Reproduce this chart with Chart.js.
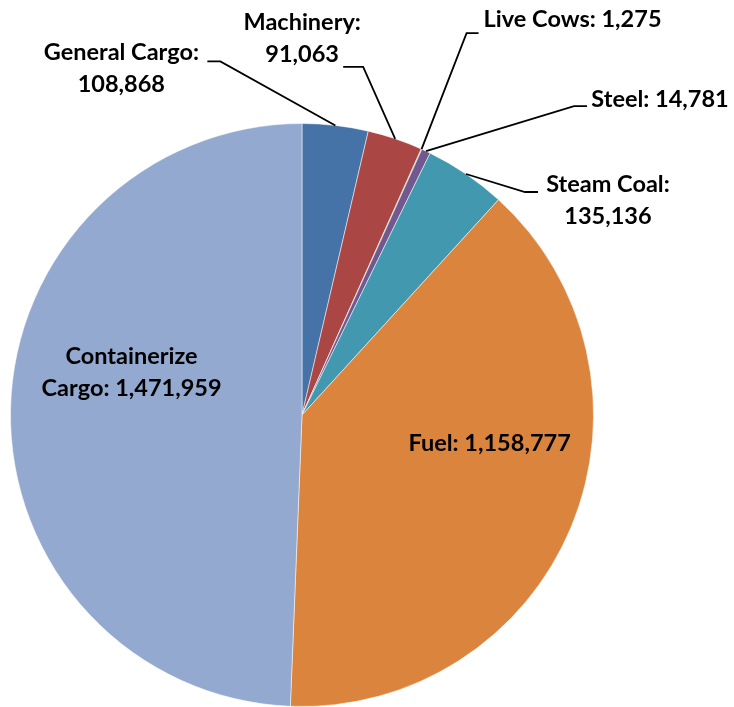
<!DOCTYPE html>
<html>
<head>
<meta charset="utf-8">
<script src="https://cdn.jsdelivr.net/npm/chart.js@4/dist/chart.umd.min.js"></script>
<style>
  body { margin: 0; background: #fff; }
  #wrap { width: 734px; height: 707px; }
</style>
</head>
<body>
<div id="wrap"><canvas id="cargoPie" width="734" height="707"></canvas></div>
<script>
// data, clockwise from 12 o'clock
const categories = ['General Cargo', 'Machinery', 'Live Cows', 'Steel', 'Steam Coal', 'Fuel', 'Containerize Cargo'];
const tonnage = [108868, 91063, 1275, 14781, 135136, 1158777, 1471959];
const sliceColors = ['#4572A7', '#AA4643', '#89A54E', '#71588F', '#4198AF', '#DB843D', '#93A9CF'];

// label text lines, and where they sit relative to the slice's outer mid point
const labelLines = [
  ['General Cargo:', '108,868'],
  ['Machinery:', '91,063'],
  ['Live Cows: 1,275'],
  ['Steel: 14,781'],
  ['Steam Coal:', '135,136'],
  ['Fuel: 1,158,777'],
  ['Containerize', 'Cargo: 1,471,959']
];
const labelOffsets = [[-214, -57], [-93, -100], [151, -130], [234, -52], [142, 26], [-82, -82], [121, -37]];
const leaderOffsets = [
  [[-115, -64], [-128, -64]],
  [[-32, -72], [-52, -72]],
  [[45, -116], [57, -116]],
  [[148, -45], [161, -45]],
  [[59, 18], [72, 18]],
  null,
  null
];

const pieLabels = {
  id: 'pieLabels',
  afterDatasetsDraw(chart) {
    const ctx = chart.ctx;
    const meta = chart.getDatasetMeta(0);
    ctx.save();
    ctx.font = 'bold 23.5px Lato, "Liberation Sans", sans-serif';
    ctx.fillStyle = '#000';
    ctx.strokeStyle = '#000';
    ctx.lineWidth = 1.8;
    ctx.textAlign = 'center';
    ctx.textBaseline = 'middle';
    meta.data.forEach(function (arc, i) {
      const p = arc.getProps(['x', 'y', 'startAngle', 'endAngle', 'outerRadius'], true);
      const mid = (p.startAngle + p.endAngle) / 2;
      const ax = p.x + Math.cos(mid) * p.outerRadius;
      const ay = p.y + Math.sin(mid) * p.outerRadius;
      const lead = leaderOffsets[i];
      if (lead) {
        ctx.beginPath();
        ctx.moveTo(ax, ay);
        ctx.lineTo(ax + lead[0][0], ay + lead[0][1]);
        ctx.lineTo(ax + lead[1][0], ay + lead[1][1]);
        ctx.stroke();
      }
      const lines = labelLines[i];
      const tx = ax + labelOffsets[i][0];
      const ty = ay + labelOffsets[i][1];
      const lh = 32;
      lines.forEach(function (t, k) {
        ctx.fillText(t, tx, ty + (k - (lines.length - 1) / 2) * lh);
      });
    });
    ctx.restore();
  }
};

new Chart(document.getElementById('cargoPie').getContext('2d'), {
  type: 'pie',
  data: {
    labels: categories,
    datasets: [{
      data: tonnage,
      backgroundColor: sliceColors,
      borderColor: 'rgba(255,255,255,0.5)',
      borderWidth: 1
    }]
  },
  options: {
    responsive: false,
    animation: false,
    layout: { padding: { left: 10, right: 140, top: 123, bottom: 0 } },
    plugins: {
      legend: { display: false },
      tooltip: { enabled: false }
    }
  },
  plugins: [pieLabels]
});
</script>
</body>
</html>
